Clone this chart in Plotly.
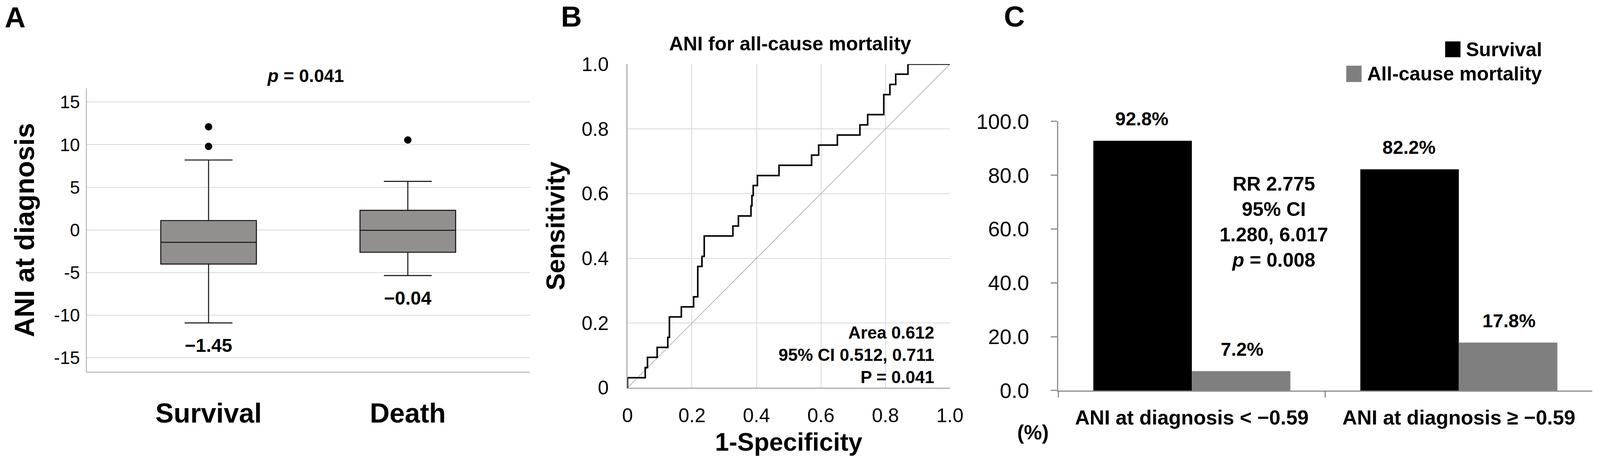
import plotly.graph_objects as go

# ---------------- Panel A data (box plot) ----------------
groups_a = ["Survival", "Death"]
q1_a = [-4.0, -2.62]
median_a = [-1.45, -0.04]
q3_a = [1.1, 2.3]
lowerfence_a = [-10.9, -5.35]
upperfence_a = [8.2, 5.7]
outlier_group_a = ["Survival", "Survival", "Death"]
outlier_value_a = [12.1, 9.8, 10.55]
median_labels_a = ["\u22121.45", "\u22120.04"]
yticks_a = [-15, -10, -5, 0, 5, 10, 15]
yticktext_a = ["-15", "-10", "-5", "0", "5", "10", "15"]

# ---------------- Panel B data (ROC curve) ----------------
roc_fpr = [0, 0, 0.055, 0.062, 0.092, 0.125, 0.130, 0.167, 0.205, 0.218, 0.231,
           0.238, 0.327, 0.344, 0.383, 0.386, 0.390, 0.403, 0.470, 0.571, 0.593,
           0.651, 0.721, 0.745, 0.795, 0.814, 0.832, 0.870, 1.0]
roc_tpr = [0, 0.031, 0.0625, 0.094, 0.125, 0.156, 0.219, 0.25, 0.281, 0.375, 0.406,
           0.469, 0.5, 0.531, 0.5625, 0.594, 0.625, 0.656, 0.6875, 0.719, 0.75,
           0.781, 0.8125, 0.844, 0.906, 0.9375, 0.969, 1.0, 1.0]
diag_ref = [0, 1]
ticks_b = [0, 0.2, 0.4, 0.6, 0.8, 1.0]
ticktext_b = ["0", "0.2", "0.4", "0.6", "0.8", "1.0"]

# ---------------- Panel C data (bar chart) ----------------
groups_c = ["ANI at diagnosis < \u22120.59", "ANI at diagnosis \u2265 \u22120.59"]
survival_pct = [92.8, 82.2]
mortality_pct = [7.2, 17.8]
yticks_c = [0, 20, 40, 60, 80, 100]

SANS = "Liberation Sans, Arial, Helvetica, sans-serif"
NARROW = "Liberation Sans Narrow, Arial Narrow, Liberation Sans, Arial, sans-serif"
W, H = 4174, 1183
YS = 0.99  # vertical layout scale


def px(x):
    return x / W


def py(y):
    return 1 - y * YS / H


def note(text, x, y, size, family=SANS, xanchor="center", align="center"):
    return dict(text=text, x=px(x), y=py(y), xref="paper", yref="paper", showarrow=False,
                xanchor=xanchor, yanchor="middle", align=align,
                font=dict(family=family, size=size, color="black"))


fig = go.Figure()

# Panel A
fig.add_trace(go.Box(
    x=groups_a, q1=q1_a, median=median_a, q3=q3_a,
    lowerfence=lowerfence_a, upperfence=upperfence_a,
    boxpoints=False, width=0.48, whiskerwidth=0.5,
    fillcolor="#938f8f", line=dict(color="#151515", width=2.6),
    xaxis="x", yaxis="y", showlegend=False, hoverinfo="skip"))
fig.add_trace(go.Scatter(
    x=outlier_group_a, y=outlier_value_a, mode="markers",
    marker=dict(color="black", size=19),
    xaxis="x", yaxis="y", showlegend=False))

# Panel B
fig.add_trace(go.Scatter(
    x=diag_ref, y=diag_ref, mode="lines",
    line=dict(color="#a8a8a8", width=1.6),
    xaxis="x2", yaxis="y2", showlegend=False))
fig.add_trace(go.Scatter(
    x=roc_fpr, y=roc_tpr, mode="lines",
    line=dict(color="black", width=4, shape="hv"),
    xaxis="x2", yaxis="y2", showlegend=False))

# Panel C
fig.add_trace(go.Bar(
    x=groups_c, y=survival_pct, name="Survival",
    marker=dict(color="black", line=dict(width=0)),
    xaxis="x3", yaxis="y3", showlegend=False))
fig.add_trace(go.Bar(
    x=groups_c, y=mortality_pct, name="All-cause mortality",
    marker=dict(color="#7f7f7f", line=dict(width=0)),
    xaxis="x3", yaxis="y3", showlegend=False))

annotations = []
# panel letters
for letter, x, y in [("A", 39, 45), ("B", 1490, 43), ("C", 2646, 43)]:
    annotations.append(note("<b>%s</b>" % letter, x, y, 74))
# panel A texts
annotations.append(note("<b><i>p</i> = 0.041</b>", 797, 196, 46))
for g, lf, lab in zip(groups_a, lowerfence_a, median_labels_a):
    annotations.append(dict(text="<b>%s</b>" % lab, x=g, y=lf, xref="x", yref="y",
                            yshift=-58, showarrow=False, xanchor="center", yanchor="middle",
                            font=dict(family=SANS, size=48, color="black")))
# panel B texts
annotations.append(note("<b>ANI for all-cause mortality</b>", 2062, 113, 50))
annotations.append(note("<b>Area 0.612<br>95% CI 0.512, 0.711<br>P = 0.041</b>", 2440, 918, 44,
                        xanchor="right", align="right"))
# panel C texts
for g, v in zip(groups_c, survival_pct):
    annotations.append(dict(text="<b>%.1f%%</b>" % v, x=g, y=v, xref="x3", yref="y3",
                            xshift=-128, yshift=56, showarrow=False, xanchor="center", yanchor="middle",
                            font=dict(family=NARROW, size=48, color="black")))
for g, v in zip(groups_c, mortality_pct):
    annotations.append(dict(text="<b>%.1f%%</b>" % v, x=g, y=v, xref="x3", yref="y3",
                            xshift=128, yshift=56, showarrow=False, xanchor="center", yanchor="middle",
                            font=dict(family=NARROW, size=48, color="black")))
annotations.append(note("<b>RR 2.775<br>95% CI<br>1.280, 6.017<br><i>p</i> = 0.008</b>", 3323, 574, 50,
                        family=NARROW))
annotations.append(note("<b>(%)</b>", 2695, 1118, 52, family=NARROW))
# legend of panel C
annotations.append(note("<b>Survival</b>", 4025, 128, 50, family=NARROW, xanchor="right", align="right"))
annotations.append(note("<b>All-cause mortality</b>", 4025, 191, 50, family=NARROW, xanchor="right",
                        align="right"))
shapes = [
    dict(type="rect", xref="paper", yref="paper", x0=px(3770), x1=px(3810), y0=py(148), y1=py(107),
         fillcolor="black", line=dict(width=0)),
    dict(type="rect", xref="paper", yref="paper", x0=px(3512), x1=px(3552), y0=py(212), y1=py(170),
         fillcolor="#7f7f7f", line=dict(width=0)),
]

fig.update_layout(
    template="none",
    width=W, height=H, autosize=False,
    margin=dict(l=0, r=0, t=0, b=0, pad=0, autoexpand=False),
    paper_bgcolor="white", plot_bgcolor="white",
    font=dict(family=SANS, color="black"),
    barmode="group", bargap=0.262, bargroupgap=0,
    annotations=annotations, shapes=shapes,
    xaxis=dict(domain=[px(226), px(1382)], anchor="y", type="category", range=[-0.612, 1.612],
               automargin=False,
               showgrid=False, zeroline=False, showline=True, linecolor="#a6a6a6", linewidth=2,
               ticks="", ticklabelstandoff=44,
               tickfont=dict(family=NARROW, size=70, color="black"), tickprefix="<b>", ticksuffix="</b>"),
    yaxis=dict(domain=[py(962), py(228)], anchor="x", range=[-16.65, 16.63],
               tickvals=yticks_a, ticktext=yticktext_a, automargin=False,
               showgrid=True, gridcolor="#d9d9d9", gridwidth=2, zeroline=False,
               showline=True, linecolor="#a6a6a6", linewidth=2, ticks="", ticklabelstandoff=6,
               tickfont=dict(family=SANS, size=46, color="black"), tickprefix="<b>", ticksuffix="</b>",
               title=dict(text="<b>ANI at diagnosis</b>", standoff=28,
                          font=dict(family=SANS, size=70, color="black"))),
    xaxis2=dict(domain=[px(1637), px(2478)], anchor="y2", range=[0, 1], tickvals=ticks_b, ticktext=ticktext_b,
                automargin=False,
                showgrid=True, gridcolor="#d9d9d9", gridwidth=2, zeroline=False,
                showline=True, linecolor="#8c8c8c", linewidth=2, ticks="", ticklabelstandoff=26,
                tickfont=dict(family=SANS, size=50, color="black"), tickprefix="<b>", ticksuffix="</b>",
                title=dict(text="<b>1-Specificity</b>", standoff=18,
                           font=dict(family=SANS, size=64, color="black"))),
    yaxis2=dict(domain=[py(1003), py(166)], anchor="x2", range=[0, 1], tickvals=ticks_b, ticktext=ticktext_b,
                automargin=False,
                showgrid=True, gridcolor="#d9d9d9", gridwidth=2, zeroline=False,
                showline=True, linecolor="#8c8c8c", linewidth=2, ticks="", ticklabelstandoff=36,
                tickfont=dict(family=SANS, size=50, color="black"), tickprefix="<b>", ticksuffix="</b>",
                title=dict(text="<b>Sensitivity</b>", standoff=22,
                           font=dict(family=SANS, size=66, color="black"))),
    xaxis3=dict(domain=[px(2761), px(4154)], anchor="y3", type="category", automargin=False,
                showgrid=False, zeroline=False, showline=True, linecolor="#8c8c8c", linewidth=3,
                ticks="outside", tickson="boundaries", ticklen=15, tickwidth=3, tickcolor="#8c8c8c",
                ticklabelstandoff=22,
                tickfont=dict(family=NARROW, size=52, color="black"), tickprefix="<b>", ticksuffix="</b>"),
    yaxis3=dict(domain=[py(1010), py(314)], anchor="x3", range=[0, 100], tickvals=yticks_c, tickformat=".1f",
                automargin=False,
                showgrid=False, zeroline=False, showline=True, linecolor="#8c8c8c", linewidth=3,
                ticks="outside", ticklen=16, tickwidth=3, tickcolor="#8c8c8c", ticklabelstandoff=45,
                tickfont=dict(family=NARROW, size=54, color="black"), tickprefix="<b>", ticksuffix="</b>"),
)

post = (
    "document.body.style.margin='0px';"
    "document.body.style.overflow='hidden';"
    "var gd=document.getElementById('{plot_id}');"
    "Plotly.relayout(gd,{width:window.innerWidth,height:window.innerHeight});"
)
fig.write_html("out.html", config={"displayModeBar": False}, post_script=post)
